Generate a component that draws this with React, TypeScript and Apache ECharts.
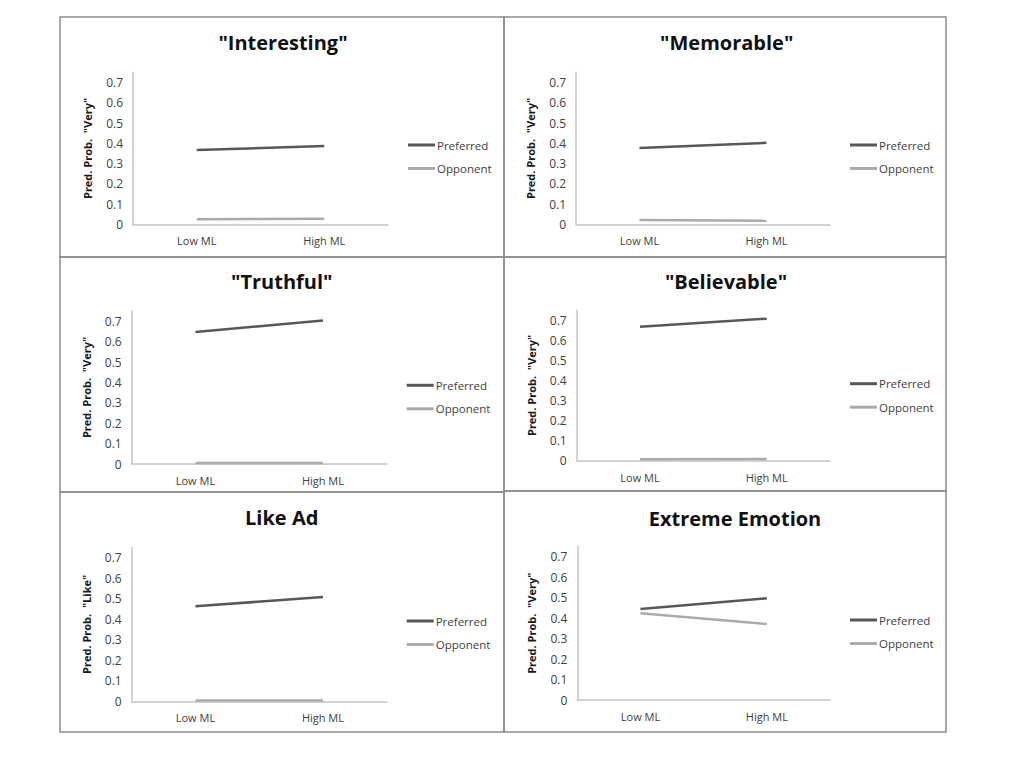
import React, { useEffect, useRef } from "react";
import * as echarts from "echarts";

const categories = ["Low ML", "High ML"];
const seriesNames = ["Preferred", "Opponent"];
const panelTitles = ['"Interesting"', '"Memorable"', '"Truthful"', '"Believable"', "Like Ad", "Extreme Emotion"];
const yAxisNames = [
  'Pred. Prob.  "Very"',
  'Pred. Prob.  "Very"',
  'Pred. Prob.  "Very"',
  'Pred. Prob.  "Very"',
  'Pred. Prob.  "Like"',
  'Pred. Prob.  "Very"',
];
const preferredValues = [
  [0.367, 0.387],
  [0.377, 0.403],
  [0.647, 0.703],
  [0.668, 0.708],
  [0.463, 0.509],
  [0.445, 0.497],
];
const opponentValues = [
  [0.025, 0.028],
  [0.021, 0.018],
  [0.005, 0.005],
  [0.007, 0.008],
  [0.004, 0.004],
  [0.424, 0.371],
];
const yTickInterval = 0.1;
const yMax = 0.75;

// layout (page px)
const grids = [
  { left: 133, top: 72.6, width: 255, height: 151.7 },
  { left: 576, top: 72.6, width: 254, height: 151.7 },
  { left: 131.7, top: 311, width: 255, height: 153 },
  { left: 576.7, top: 310.2, width: 253.3, height: 150.5 },
  { left: 131.7, top: 547.5, width: 255, height: 153.8 },
  { left: 577.3, top: 546.5, width: 252.7, height: 153.5 },
];
const titlePos = [
  { x: 283, y: 43 },
  { x: 726.7, y: 43 },
  { x: 281.7, y: 282 },
  { x: 726, y: 282 },
  { x: 281.7, y: 518 },
  { x: 735, y: 519.3 },
];
const legendPos = [
  { x: 408, y: 145 },
  { x: 850, y: 145 },
  { x: 406.7, y: 385.3 },
  { x: 850, y: 383.7 },
  { x: 406.7, y: 621 },
  { x: 850, y: 620 },
];
const panels = [
  { x: 60, y: 17, w: 444, h: 240 },
  { x: 504, y: 17, w: 442, h: 240 },
  { x: 60, y: 257, w: 444, h: 235 },
  { x: 504, y: 257, w: 442, h: 234 },
  { x: 60, y: 492, w: 444, h: 240 },
  { x: 504, y: 491, w: 442, h: 241 },
];

const FONT = "Open Sans";
const PREF_COLOR = "#585858";
const OPP_COLOR = "#ababab";
const AXIS_COLOR = "#c4c4c4";
const TEXT_COLOR = "#404040";

export default function App() {
  const ref = useRef<HTMLDivElement>(null);
  useEffect(() => {
    if (!ref.current) return;
    const chart = echarts.init(ref.current, undefined, { renderer: "svg" });
    const option: any = {
      animation: false,
      backgroundColor: "#ffffff",
      textStyle: { fontFamily: FONT },
      title: panelTitles.map((t, i) => ({
        text: t,
        left: titlePos[i].x,
        top: titlePos[i].y - 11,
        textAlign: "center",
        padding: 0,
        textStyle: { fontFamily: FONT, fontWeight: "bold", fontSize: 20, color: "#111111" },
      })),
      legend: legendPos.map((p) => ({
        data: seriesNames,
        orient: "vertical",
        left: p.x,
        top: p.y - 7,
        padding: 0,
        itemWidth: 27,
        itemHeight: 3,
        itemGap: 9.5,
        icon: "rect",
        selectedMode: false,
        textStyle: { fontFamily: FONT, fontSize: 11.5, color: TEXT_COLOR, lineHeight: 14, padding: [0, 0, 0, -3] },
      })),
      grid: grids.map((g) => ({ ...g, containLabel: false })),
      xAxis: grids.map((_, i) => ({
        type: "category",
        gridIndex: i,
        data: categories,
        boundaryGap: true,
        axisLine: { show: true, lineStyle: { color: AXIS_COLOR, width: 1.5 } },
        axisTick: { show: false },
        axisLabel: { fontFamily: FONT, fontSize: 11, color: TEXT_COLOR, margin: 11 },
        splitLine: { show: false },
      })),
      yAxis: grids.map((_, i) => ({
        type: "value",
        gridIndex: i,
        min: 0,
        max: yMax,
        interval: yTickInterval,
        name: yAxisNames[i],
        nameLocation: "middle",
        nameRotate: 90,
        nameGap: 40,
        nameTextStyle: { fontFamily: FONT, fontSize: 11, fontWeight: "bold", color: "#1a1a1a" },
        axisLine: { show: true, lineStyle: { color: AXIS_COLOR, width: 1.5 } },
        axisTick: { show: false },
        splitLine: { show: false },
        axisLabel: {
          fontFamily: FONT,
          fontSize: 12,
          color: TEXT_COLOR,
          margin: 10,
          showMaxLabel: false,
          formatter: (v: number) => (v === 0 ? "0" : String(Math.round(v * 10) / 10)),
        },
      })),
      series: grids.flatMap((_, i) => [
        {
          name: seriesNames[0],
          type: "line",
          xAxisIndex: i,
          yAxisIndex: i,
          data: preferredValues[i],
          symbol: "none",
          color: PREF_COLOR,
          lineStyle: { color: PREF_COLOR, width: 2.5 },
          silent: true,
        },
        {
          name: seriesNames[1],
          type: "line",
          xAxisIndex: i,
          yAxisIndex: i,
          data: opponentValues[i],
          symbol: "none",
          color: OPP_COLOR,
          lineStyle: { color: OPP_COLOR, width: 2.5 },
          silent: true,
        },
      ]),
      graphic: panels.map((p) => ({
        type: "rect",
        shape: { x: p.x, y: p.y, width: p.w, height: p.h },
        style: { fill: "none", stroke: "#8c8c8c", lineWidth: 1.5 },
        silent: true,
        z: 100,
      })),
    };
    chart.setOption(option);
    return () => chart.dispose();
  }, []);
  return (
    <div
      ref={ref}
      style={{ position: "absolute", left: 0, top: 0, width: 1024, height: 768, background: "#fff" }}
    />
  );
}
